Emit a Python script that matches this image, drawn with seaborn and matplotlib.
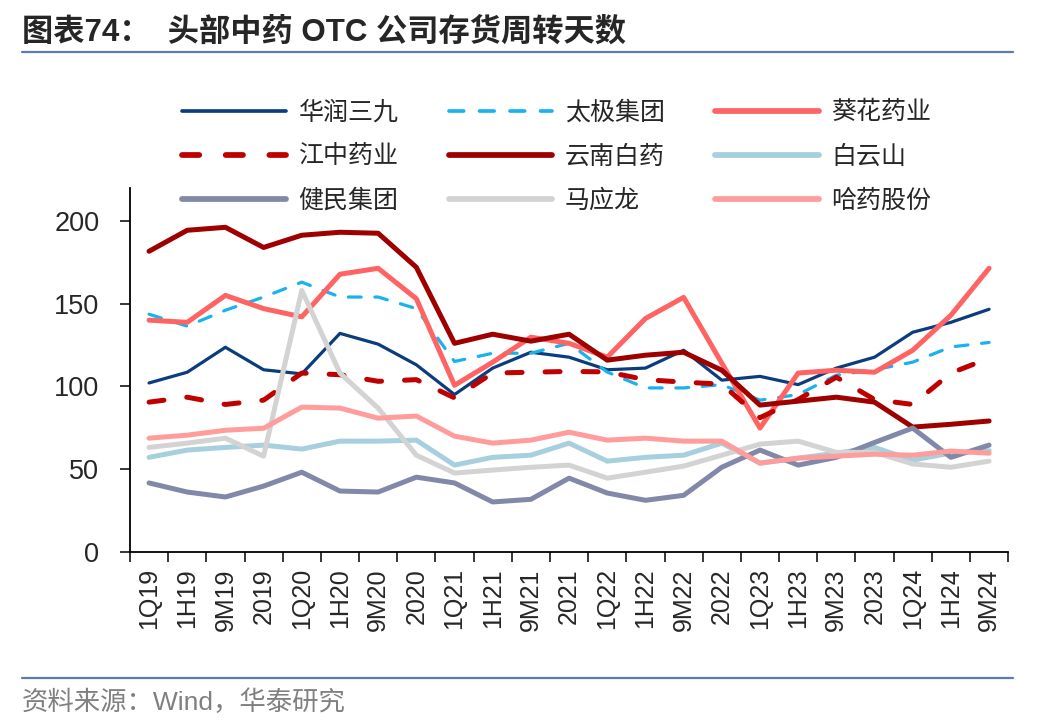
import matplotlib
matplotlib.use("Agg")
import matplotlib.pyplot as plt
from matplotlib.lines import Line2D
import seaborn as sns
import numpy as np

periods = ["1Q19", "1H19", "9M19", "2019", "1Q20", "1H20", "9M20", "2020",
           "1Q21", "1H21", "9M21", "2021", "1Q22", "1H22", "9M22", "2022",
           "1Q23", "1H23", "9M23", "2023", "1Q24", "1H24", "9M24"]

huarun = [102, 108.5, 123.6, 110, 107.5, 132, 125.5, 113, 95, 111, 120.6, 117.6,
          110, 111, 121.8, 103.7, 106, 101, 111, 117.6, 132.7, 138.7, 146.6]
taiji = [143.6, 136.4, 146, 154, 163, 154, 154, 147, 115, 120, 120, 126,
         108.6, 99, 99, 101, 91.6, 95, 106.7, 110, 114.6, 123.8, 126.5]
kuihua = [140, 138.7, 155, 147, 142, 167.8, 171.4, 153, 100.6, 114.6, 129.7, 126,
          117.6, 141, 153.8, 114, 74.7, 108, 109.7, 108.5, 121.8, 143, 171.4]
jiangzhong = [90.4, 93.4, 89, 91.6, 108, 107, 103, 104, 93, 108, 108.5, 109,
              108.7, 104, 102.5, 101.3, 81, 92, 105.5, 92, 89, 108, 117]
yunnan = [181.7, 194.4, 196.2, 184, 191.4, 193.2, 192.6, 172, 126, 131.5, 127.3, 131.5,
          115.8, 118.8, 120.6, 109.7, 88.6, 91, 93.4, 90.4, 75.3, 77, 79]
baiyunshan = [57, 61.4, 63, 64.4, 62, 66.8, 66.8, 67.4, 52.3, 57, 58.3, 65.6,
              54.7, 57, 58.3, 65.6, 53.5, 56.5, 59.5, 63, 55.3, 59.6, 61]
jianmin = [41.5, 36, 33, 39.6, 48, 36.6, 36, 45, 41.5, 30, 31.6, 44.4,
           35.4, 31, 34, 51, 61.4, 52.3, 57, 66, 74.7, 57, 64.4]
mayinglong = [63, 65.6, 68.6, 57.7, 158, 108, 86.8, 58.3, 47.5, 49.3, 51, 52.3,
              44.4, 48, 51.7, 58.3, 65, 66.8, 60, 60, 53, 51, 54.7]
hayao = [68.6, 70.4, 73.4, 74.6, 87.4, 86.8, 80.7, 82, 69.8, 65.6, 67.4, 72.2,
         67.4, 68.6, 66.8, 66.8, 53.5, 56.5, 57.7, 58.9, 58.3, 60.8, 59.5]

names = ["华润三九", "太极集团", "葵花药业", "江中药业", "云南白药",
         "白云山", "健民集团", "马应龙", "哈药股份"]
values = [huarun, taiji, kuihua, jiangzhong, yunnan, baiyunshan, jianmin, mayinglong, hayao]
colors = ["#0B3C7D", "#1AB2EE", "#FF6464", "#C00000", "#9E0000",
          "#A7CFDE", "#8288A8", "#D3D3D3", "#FF9C9C"]
widths = [2.3, 2.3, 3.6, 3.6, 3.6, 3.6, 3.6, 3.6, 3.6]
styles = ["-", (0, (4, 4.3)), "-", (0, (3, 4.6)), "-", "-", "-", "-", "-"]

sns.set_style("ticks")
plt.rcParams["font.family"] = ["Liberation Sans", "Noto Sans CJK SC", "DejaVu Sans"]

fig = plt.figure(figsize=(10.48, 7.28), dpi=100)
ax = fig.add_axes([0.124, 0.2424, 0.838, 0.4994])

x = np.arange(len(periods))
for name, vals, c, lw, ls in zip(names, values, colors, widths, styles):
    sns.lineplot(x=x, y=vals, ax=ax, color=c, linewidth=lw, linestyle=ls,
                 label=name, solid_capstyle="round", dash_capstyle="round")

ax.set_xlim(-0.5, len(periods) - 0.5)
ax.set_ylim(0, 220)
ax.set_yticks([0, 50, 100, 150, 200])
ax.set_xticks(x)
ax.set_xticklabels(periods, rotation=90)
ax.set_xticks(np.arange(-0.5, len(periods)), minor=True)
ax.tick_params(axis="x", which="major", length=0, labelsize=18, pad=12)
ax.tick_params(axis="x", which="minor", length=7, width=1.3, direction="out")
ax.tick_params(axis="y", length=7, width=1.3, direction="out", labelsize=19.5, pad=15)
ax.set_xlabel("")
ax.set_ylabel("")
for s in ["top", "right"]:
    ax.spines[s].set_visible(False)
for s in ["left", "bottom"]:
    ax.spines[s].set_linewidth(1.3)
    ax.spines[s].set_color("black")

handles, labels = ax.get_legend_handles_labels()
order = [0, 3, 6, 1, 4, 7, 2, 5, 8]
leg = ax.legend([handles[i] for i in order], [labels[i] for i in order],
                ncol=3, loc="upper left", bbox_to_anchor=(0.174, 0.862),
                bbox_transform=fig.transFigure, frameon=False, fontsize=18,
                handlelength=4.15, handletextpad=0.5, columnspacing=2.0,
                labelspacing=0.8, borderpad=0, borderaxespad=0)
for h in leg.get_lines():
    h.set_linewidth(h.get_linewidth() * 1.15)

fig.text(0.021, 0.955, "图表74：  头部中药 OTC 公司存货周转天数", fontsize=22.5,
         fontweight="bold", va="center", ha="left")
fig.add_artist(Line2D([0.021, 0.967], [0.928, 0.928], color="#5B7DB3", lw=1.6,
                      transform=fig.transFigure))
fig.add_artist(Line2D([0.021, 0.967], [0.069, 0.069], color="#5B7DB3", lw=1.6,
                      transform=fig.transFigure))
fig.text(0.021, 0.036, "资料来源：Wind，华泰研究", fontsize=19, color="#808080",
         va="center", ha="left")

fig.savefig("out.png", dpi=100)
